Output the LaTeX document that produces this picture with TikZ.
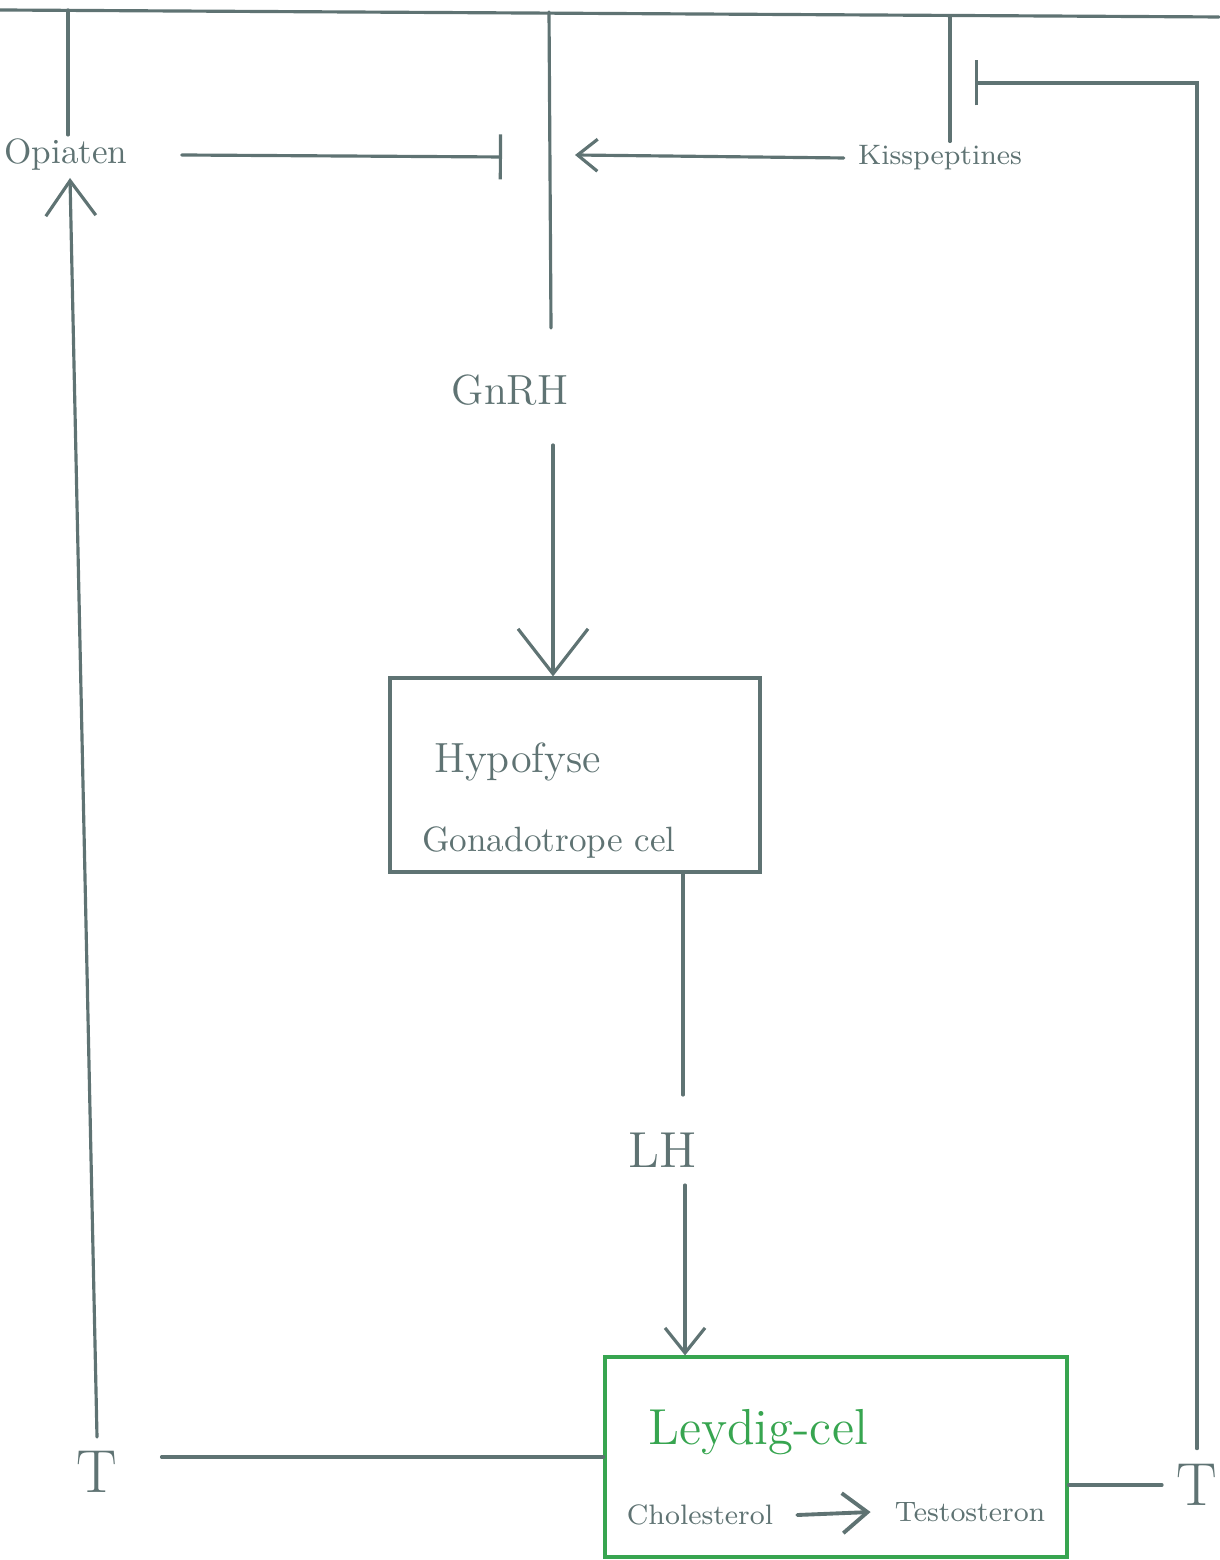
\documentclass[tikz,border=0pt]{standalone}
\usetikzlibrary{arrows.meta,positioning}
\definecolor{ink}{RGB}{95,115,115}
\definecolor{leaf}{RGB}{55,165,80}
\begin{document}
\begin{tikzpicture}[
    pen/.style={draw=ink, line width=0.9pt, line cap=round},
    label/.style={text=ink, inner sep=1pt},
    stim/.style={pen, -{Straight Barb[length=0.45cm, width=0.7cm]}},
    stimsmall/.style={pen, -{Straight Barb[length=0.25cm, width=0.4cm]}},
    inhib/.style={pen, -{Bar[width=0.45cm]}},
    cellbox/.style={pen, minimum width=3.7cm, minimum height=1.94cm}
  ]
  \useasboundingbox (0,0) rectangle (12.19,-15.6);

  % Top edge (hypothalamus)
  \coordinate (topL) at (0,-0.10);
  \coordinate (topR) at (12.19,-0.17);
  \draw[pen] (topL) -- (topR);

  % Labels up top
  \node[label] (opiaten) at (0.66,-1.55) {Opiaten};
  \node[label, font=\footnotesize] (kiss) at (9.40,-1.58) {Kisspeptines};
  \node[label, font=\large] (gnrh) at (5.10,-3.90) {GnRH};

  % Stalks from the top edge
  \coordinate (opitop) at (0.68,-0.10);
  \coordinate (gnrhtop) at (5.49,-0.12);
  \coordinate (gnrhend) at (5.51,-3.28);
  \coordinate (kisstop) at (9.50,-0.17);
  \draw[pen] (opitop) -- (opitop |- opiaten.north);
  \draw[pen] (gnrhtop) -- (gnrhend);
  \draw[pen] (kisstop) -- (kisstop |- kiss.north);

  % Opiaten inhibit, Kisspeptines stimulate
  \coordinate (opiinh) at (5.02,-1.57);
  \coordinate (kissend) at (5.75,-1.55);
  \draw[inhib] ([xshift=0.5cm]opiaten.east) -- (opiinh);
  \draw[pen, -{Straight Barb[length=0.2cm, width=0.32cm]}] ([xshift=-0.1cm]kiss.west) -- (kissend);

  % Hypofyse
  \node[cellbox] (hypo) at (5.75,-7.75) {};
  \node[label, font=\large, anchor=west] (hypotxt) at (4.30,-7.62) {Hypofyse};
  \node[label, anchor=west] (gonatxt) at (4.18,-8.43) {Gonadotrope cel};
  \coordinate (gnrhstart) at (5.53,-4.45);
  \draw[stim] (gnrhstart) -- (gnrhstart |- hypo.north);

  % LH
  \node[label, font=\Large] (lh) at (6.63,-11.50) {LH};
  \coordinate (lhin) at (6.83,-10.95);
  \coordinate (lhout) at (6.85,-11.85);
  \draw[pen] (lhin |- hypo.south) -- (lhin);

  % Leydig-cel
  \node[pen, draw=leaf, minimum width=4.62cm, minimum height=2.0cm] (leydig) at (8.36,-14.57) {};
  \node[text=leaf, font=\Large] (leytxt) at (7.58,-14.32) {Leydig-cel};
  \node[label, font=\footnotesize] (chol) at (7.00,-15.15) {Cholesterol};
  \node[label, font=\footnotesize] (testo) at (9.70,-15.12) {Testosteron};
  \draw[stimsmall, line width=1.1pt] ([xshift=0.2cm]chol.east) -- ([xshift=-0.2cm]testo.west);
  \draw[stimsmall] (lhout) -- (lhout |- leydig.north);

  % Testosteron out
  \node[label, font=\LARGE] (tleft) at (0.97,-14.72) {T};
  \node[label, font=\LARGE, inner sep=0pt] (tright) at (11.97,-14.85) {T};
  \draw[pen] ([xshift=0.4cm]tleft.east |- leydig.west) -- (leydig.west);
  \coordinate (trightin) at (11.62,-14.85);
  \draw[pen] (leydig.east |- trightin) -- (trightin);

  % Feedback loops
  \coordinate (opiarr) at (0.70,-1.78);
  \draw[pen, -{Straight Barb[length=0.35cm, width=0.5cm]}] ([yshift=0.1cm]tleft.north) -- (opiarr);
  \coordinate (kisscorner) at (11.97,-0.83);
  \coordinate (kissbar) at (9.75,-0.83);
  \draw[inhib] ([yshift=0.15cm]tright.north -| kisscorner) -- (kisscorner) -- (kissbar);
\end{tikzpicture}
\end{document}
